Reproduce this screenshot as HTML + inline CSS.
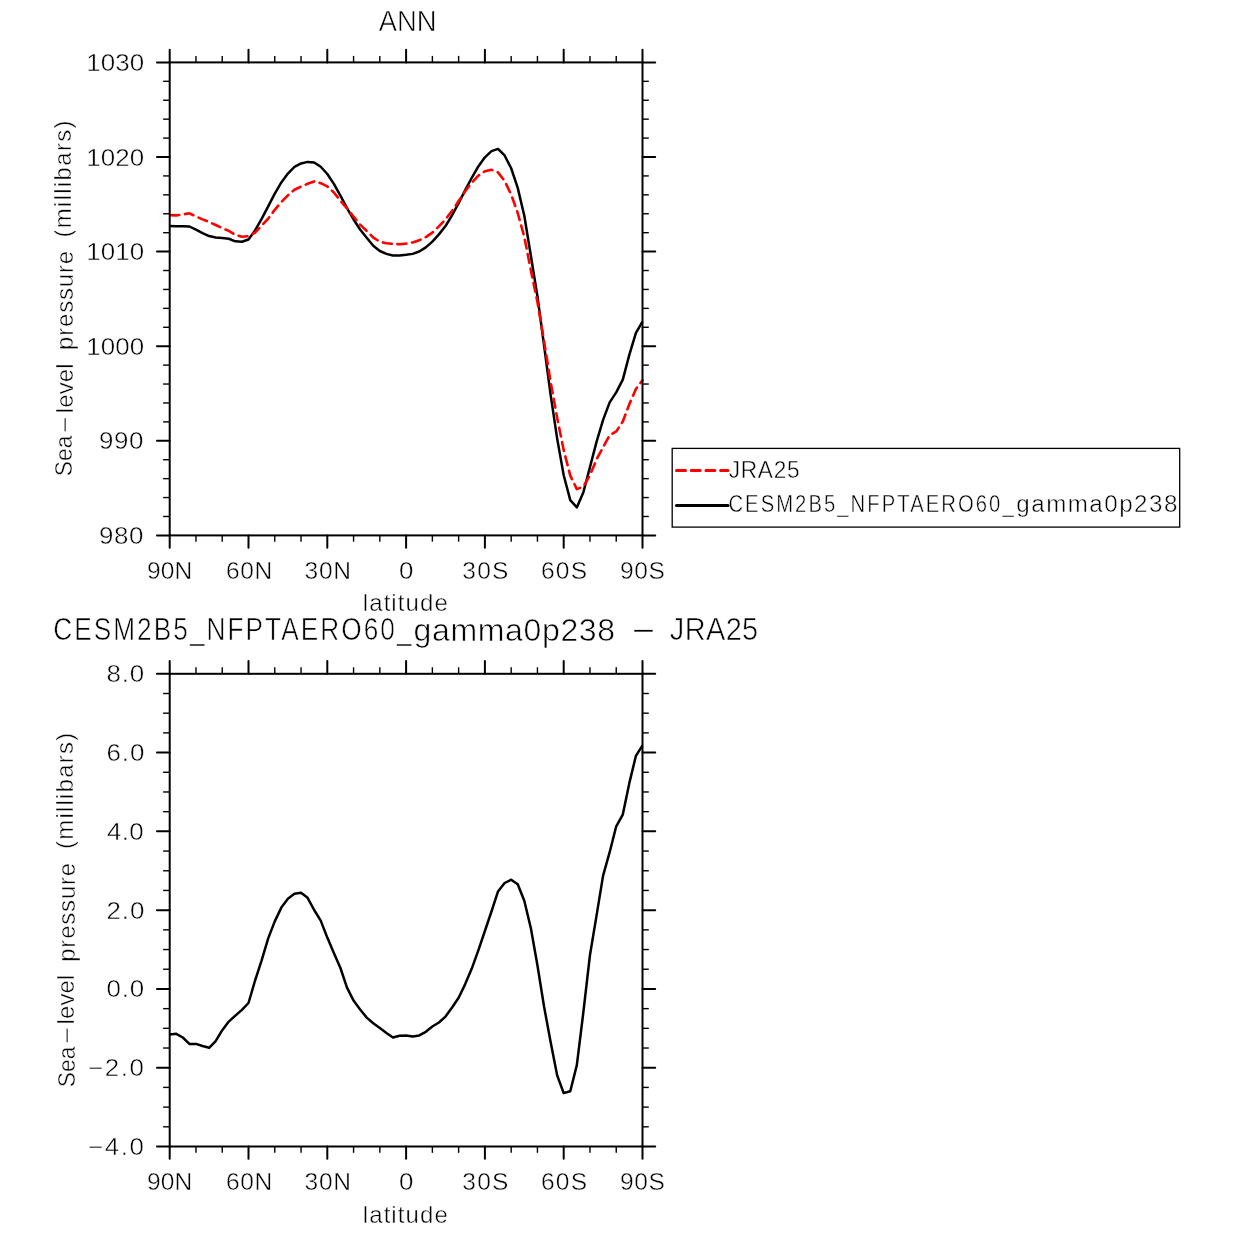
<!DOCTYPE html>
<html><head><meta charset="utf-8"><style>
html,body{margin:0;padding:0;background:#fff;width:1233px;height:1233px;overflow:hidden}
svg{display:block}
text{font-family:"Liberation Sans", sans-serif;fill:#000;stroke:#fff;stroke-width:0.45px}
svg{will-change:transform}
</style></head><body>
<svg width="1233" height="1233" viewBox="0 0 1233 1233">
<path d="M169.70,226.03 L176.27,226.18 L182.83,226.18 L189.40,226.50 L195.97,229.70 L202.53,233.05 L209.10,236.07 L215.67,237.56 L222.23,238.00 L228.80,238.77 L235.37,241.35 L241.93,241.71 L248.50,239.49 L255.07,230.48 L261.63,218.91 L268.20,206.38 L274.77,193.59 L281.33,182.43 L287.90,173.61 L294.47,166.92 L301.03,163.45 L307.60,161.90 L314.17,162.47 L320.73,166.74 L327.30,174.03 L333.87,183.83 L340.43,195.63 L347.00,208.04 L353.57,219.50 L360.13,229.52 L366.70,237.79 L373.27,245.77 L379.83,251.00 L386.40,253.89 L392.97,255.58 L399.53,255.42 L406.10,254.78 L412.67,253.87 L419.23,251.48 L425.80,247.39 L432.37,241.66 L438.93,234.38 L445.50,226.07 L452.07,215.23 L458.63,203.21 L465.20,190.12 L471.77,177.76 L478.33,166.42 L484.90,157.34 L491.47,151.15 L498.03,148.93 L504.60,155.48 L511.17,168.23 L517.73,187.88 L524.30,215.71 L530.87,255.70 L537.43,296.20 L544.00,344.98 L550.57,394.38 L557.13,438.37 L563.70,475.21 L570.27,500.13 L576.83,507.39 L583.40,492.15 L589.97,467.07 L596.53,441.84 L603.10,419.89 L609.67,402.33 L616.23,392.42 L622.80,379.61 L629.37,354.66 L635.93,332.95 L642.50,321.74" fill="none" stroke="#000" stroke-width="2.5" stroke-linejoin="round"/>
<path d="M169.70,215.07 L176.27,215.42 L182.83,214.52 L189.40,213.30 L195.97,216.50 L202.53,219.35 L209.10,221.93 L215.67,225.04 L222.23,228.10 L228.80,230.93 L235.37,234.95 L241.93,236.69 L248.50,236.11 L255.07,232.52 L261.63,225.79 L268.20,218.52 L274.77,209.81 L281.33,201.97 L287.90,195.29 L294.47,189.78 L301.03,186.55 L307.60,183.80 L314.17,181.43 L320.73,183.16 L327.30,186.37 L333.87,192.47 L340.43,200.67 L347.00,208.36 L353.57,216.70 L360.13,224.58 L366.70,230.91 L373.27,237.53 L379.83,241.60 L386.40,243.31 L392.97,243.92 L399.53,244.18 L406.10,243.62 L412.67,242.43 L419.23,240.32 L425.80,237.11 L432.37,232.64 L438.93,226.32 L445.50,219.43 L452.07,210.77 L458.63,201.09 L465.20,191.28 L471.77,182.64 L478.33,175.68 L484.90,171.26 L491.47,169.75 L498.03,172.37 L504.60,180.92 L511.17,194.47 L517.73,213.02 L524.30,236.89 L530.87,270.30 L537.43,301.90 L544.00,340.82 L550.57,381.72 L557.13,417.63 L563.70,450.19 L570.27,475.57 L576.83,489.11 L583.40,486.65 L589.97,475.23 L596.53,459.46 L603.10,447.11 L609.67,435.17 L616.23,431.48 L622.80,421.49 L629.37,404.14 L635.93,388.95 L642.50,380.26" fill="none" stroke="#f00" stroke-width="2.6" stroke-dasharray="9 5.7" stroke-dashoffset="-0.6" stroke-linecap="round" stroke-linejoin="round"/>
<path d="M169.70,1034.60 L176.27,1033.80 L182.83,1037.50 L189.40,1043.90 L195.97,1043.90 L202.53,1046.00 L209.10,1047.80 L215.67,1041.10 L222.23,1030.20 L228.80,1021.60 L235.37,1015.60 L241.93,1009.90 L248.50,1003.00 L255.07,980.50 L261.63,960.30 L268.20,938.40 L274.77,921.40 L281.33,907.60 L287.90,898.70 L294.47,893.80 L301.03,892.80 L307.60,897.80 L314.17,910.00 L320.73,920.60 L327.30,937.60 L333.87,953.00 L340.43,968.00 L347.00,987.60 L353.57,1000.60 L360.13,1009.50 L366.70,1017.60 L373.27,1023.30 L379.83,1028.10 L386.40,1033.00 L392.97,1037.50 L399.53,1035.80 L406.10,1035.40 L412.67,1036.60 L419.23,1035.40 L425.80,1031.80 L432.37,1026.50 L438.93,1022.50 L445.50,1016.60 L452.07,1007.50 L458.63,997.80 L465.20,984.10 L471.77,968.60 L478.33,950.40 L484.90,931.00 L491.47,911.50 L498.03,891.40 L504.60,883.00 L511.17,879.70 L517.73,884.30 L524.30,900.80 L530.87,928.20 L537.43,965.20 L544.00,1006.30 L550.57,1041.70 L557.13,1075.30 L563.70,1093.10 L570.27,1091.20 L576.83,1065.10 L583.40,1011.90 L589.97,955.00 L596.53,915.60 L603.10,875.60 L609.67,852.20 L616.23,826.30 L622.80,814.60 L629.37,782.90 L635.93,755.80 L642.50,745.30" fill="none" stroke="#000" stroke-width="2.5" stroke-linejoin="round"/>
<rect x="169.7" y="62.4" width="472.8" height="473.0" fill="none" stroke="#000" stroke-width="2"/>
<line x1="169.70" y1="49.70" x2="169.70" y2="62.40" stroke="#000" stroke-width="2" stroke-linecap="round"/>
<line x1="169.70" y1="535.40" x2="169.70" y2="547.70" stroke="#000" stroke-width="2" stroke-linecap="round"/>
<line x1="195.97" y1="55.90" x2="195.97" y2="62.40" stroke="#000" stroke-width="1.4"/>
<line x1="195.97" y1="535.40" x2="195.97" y2="541.70" stroke="#000" stroke-width="1.4"/>
<line x1="222.23" y1="55.90" x2="222.23" y2="62.40" stroke="#000" stroke-width="1.4"/>
<line x1="222.23" y1="535.40" x2="222.23" y2="541.70" stroke="#000" stroke-width="1.4"/>
<line x1="248.50" y1="49.70" x2="248.50" y2="62.40" stroke="#000" stroke-width="2" stroke-linecap="round"/>
<line x1="248.50" y1="535.40" x2="248.50" y2="547.70" stroke="#000" stroke-width="2" stroke-linecap="round"/>
<line x1="274.77" y1="55.90" x2="274.77" y2="62.40" stroke="#000" stroke-width="1.4"/>
<line x1="274.77" y1="535.40" x2="274.77" y2="541.70" stroke="#000" stroke-width="1.4"/>
<line x1="301.03" y1="55.90" x2="301.03" y2="62.40" stroke="#000" stroke-width="1.4"/>
<line x1="301.03" y1="535.40" x2="301.03" y2="541.70" stroke="#000" stroke-width="1.4"/>
<line x1="327.30" y1="49.70" x2="327.30" y2="62.40" stroke="#000" stroke-width="2" stroke-linecap="round"/>
<line x1="327.30" y1="535.40" x2="327.30" y2="547.70" stroke="#000" stroke-width="2" stroke-linecap="round"/>
<line x1="353.57" y1="55.90" x2="353.57" y2="62.40" stroke="#000" stroke-width="1.4"/>
<line x1="353.57" y1="535.40" x2="353.57" y2="541.70" stroke="#000" stroke-width="1.4"/>
<line x1="379.83" y1="55.90" x2="379.83" y2="62.40" stroke="#000" stroke-width="1.4"/>
<line x1="379.83" y1="535.40" x2="379.83" y2="541.70" stroke="#000" stroke-width="1.4"/>
<line x1="406.10" y1="49.70" x2="406.10" y2="62.40" stroke="#000" stroke-width="2" stroke-linecap="round"/>
<line x1="406.10" y1="535.40" x2="406.10" y2="547.70" stroke="#000" stroke-width="2" stroke-linecap="round"/>
<line x1="432.37" y1="55.90" x2="432.37" y2="62.40" stroke="#000" stroke-width="1.4"/>
<line x1="432.37" y1="535.40" x2="432.37" y2="541.70" stroke="#000" stroke-width="1.4"/>
<line x1="458.63" y1="55.90" x2="458.63" y2="62.40" stroke="#000" stroke-width="1.4"/>
<line x1="458.63" y1="535.40" x2="458.63" y2="541.70" stroke="#000" stroke-width="1.4"/>
<line x1="484.90" y1="49.70" x2="484.90" y2="62.40" stroke="#000" stroke-width="2" stroke-linecap="round"/>
<line x1="484.90" y1="535.40" x2="484.90" y2="547.70" stroke="#000" stroke-width="2" stroke-linecap="round"/>
<line x1="511.17" y1="55.90" x2="511.17" y2="62.40" stroke="#000" stroke-width="1.4"/>
<line x1="511.17" y1="535.40" x2="511.17" y2="541.70" stroke="#000" stroke-width="1.4"/>
<line x1="537.43" y1="55.90" x2="537.43" y2="62.40" stroke="#000" stroke-width="1.4"/>
<line x1="537.43" y1="535.40" x2="537.43" y2="541.70" stroke="#000" stroke-width="1.4"/>
<line x1="563.70" y1="49.70" x2="563.70" y2="62.40" stroke="#000" stroke-width="2" stroke-linecap="round"/>
<line x1="563.70" y1="535.40" x2="563.70" y2="547.70" stroke="#000" stroke-width="2" stroke-linecap="round"/>
<line x1="589.97" y1="55.90" x2="589.97" y2="62.40" stroke="#000" stroke-width="1.4"/>
<line x1="589.97" y1="535.40" x2="589.97" y2="541.70" stroke="#000" stroke-width="1.4"/>
<line x1="616.23" y1="55.90" x2="616.23" y2="62.40" stroke="#000" stroke-width="1.4"/>
<line x1="616.23" y1="535.40" x2="616.23" y2="541.70" stroke="#000" stroke-width="1.4"/>
<line x1="642.50" y1="49.70" x2="642.50" y2="62.40" stroke="#000" stroke-width="2" stroke-linecap="round"/>
<line x1="642.50" y1="535.40" x2="642.50" y2="547.70" stroke="#000" stroke-width="2" stroke-linecap="round"/>
<line x1="157.00" y1="62.40" x2="169.70" y2="62.40" stroke="#000" stroke-width="2" stroke-linecap="round"/>
<line x1="642.50" y1="62.40" x2="655.20" y2="62.40" stroke="#000" stroke-width="2" stroke-linecap="round"/>
<line x1="163.10" y1="81.32" x2="169.70" y2="81.32" stroke="#000" stroke-width="1.4"/>
<line x1="642.50" y1="81.32" x2="648.80" y2="81.32" stroke="#000" stroke-width="1.4"/>
<line x1="163.10" y1="100.24" x2="169.70" y2="100.24" stroke="#000" stroke-width="1.4"/>
<line x1="642.50" y1="100.24" x2="648.80" y2="100.24" stroke="#000" stroke-width="1.4"/>
<line x1="163.10" y1="119.16" x2="169.70" y2="119.16" stroke="#000" stroke-width="1.4"/>
<line x1="642.50" y1="119.16" x2="648.80" y2="119.16" stroke="#000" stroke-width="1.4"/>
<line x1="163.10" y1="138.08" x2="169.70" y2="138.08" stroke="#000" stroke-width="1.4"/>
<line x1="642.50" y1="138.08" x2="648.80" y2="138.08" stroke="#000" stroke-width="1.4"/>
<line x1="157.00" y1="157.00" x2="169.70" y2="157.00" stroke="#000" stroke-width="2" stroke-linecap="round"/>
<line x1="642.50" y1="157.00" x2="655.20" y2="157.00" stroke="#000" stroke-width="2" stroke-linecap="round"/>
<line x1="163.10" y1="175.92" x2="169.70" y2="175.92" stroke="#000" stroke-width="1.4"/>
<line x1="642.50" y1="175.92" x2="648.80" y2="175.92" stroke="#000" stroke-width="1.4"/>
<line x1="163.10" y1="194.84" x2="169.70" y2="194.84" stroke="#000" stroke-width="1.4"/>
<line x1="642.50" y1="194.84" x2="648.80" y2="194.84" stroke="#000" stroke-width="1.4"/>
<line x1="163.10" y1="213.76" x2="169.70" y2="213.76" stroke="#000" stroke-width="1.4"/>
<line x1="642.50" y1="213.76" x2="648.80" y2="213.76" stroke="#000" stroke-width="1.4"/>
<line x1="163.10" y1="232.68" x2="169.70" y2="232.68" stroke="#000" stroke-width="1.4"/>
<line x1="642.50" y1="232.68" x2="648.80" y2="232.68" stroke="#000" stroke-width="1.4"/>
<line x1="157.00" y1="251.60" x2="169.70" y2="251.60" stroke="#000" stroke-width="2" stroke-linecap="round"/>
<line x1="642.50" y1="251.60" x2="655.20" y2="251.60" stroke="#000" stroke-width="2" stroke-linecap="round"/>
<line x1="163.10" y1="270.52" x2="169.70" y2="270.52" stroke="#000" stroke-width="1.4"/>
<line x1="642.50" y1="270.52" x2="648.80" y2="270.52" stroke="#000" stroke-width="1.4"/>
<line x1="163.10" y1="289.44" x2="169.70" y2="289.44" stroke="#000" stroke-width="1.4"/>
<line x1="642.50" y1="289.44" x2="648.80" y2="289.44" stroke="#000" stroke-width="1.4"/>
<line x1="163.10" y1="308.36" x2="169.70" y2="308.36" stroke="#000" stroke-width="1.4"/>
<line x1="642.50" y1="308.36" x2="648.80" y2="308.36" stroke="#000" stroke-width="1.4"/>
<line x1="163.10" y1="327.28" x2="169.70" y2="327.28" stroke="#000" stroke-width="1.4"/>
<line x1="642.50" y1="327.28" x2="648.80" y2="327.28" stroke="#000" stroke-width="1.4"/>
<line x1="157.00" y1="346.20" x2="169.70" y2="346.20" stroke="#000" stroke-width="2" stroke-linecap="round"/>
<line x1="642.50" y1="346.20" x2="655.20" y2="346.20" stroke="#000" stroke-width="2" stroke-linecap="round"/>
<line x1="163.10" y1="365.12" x2="169.70" y2="365.12" stroke="#000" stroke-width="1.4"/>
<line x1="642.50" y1="365.12" x2="648.80" y2="365.12" stroke="#000" stroke-width="1.4"/>
<line x1="163.10" y1="384.04" x2="169.70" y2="384.04" stroke="#000" stroke-width="1.4"/>
<line x1="642.50" y1="384.04" x2="648.80" y2="384.04" stroke="#000" stroke-width="1.4"/>
<line x1="163.10" y1="402.96" x2="169.70" y2="402.96" stroke="#000" stroke-width="1.4"/>
<line x1="642.50" y1="402.96" x2="648.80" y2="402.96" stroke="#000" stroke-width="1.4"/>
<line x1="163.10" y1="421.88" x2="169.70" y2="421.88" stroke="#000" stroke-width="1.4"/>
<line x1="642.50" y1="421.88" x2="648.80" y2="421.88" stroke="#000" stroke-width="1.4"/>
<line x1="157.00" y1="440.80" x2="169.70" y2="440.80" stroke="#000" stroke-width="2" stroke-linecap="round"/>
<line x1="642.50" y1="440.80" x2="655.20" y2="440.80" stroke="#000" stroke-width="2" stroke-linecap="round"/>
<line x1="163.10" y1="459.72" x2="169.70" y2="459.72" stroke="#000" stroke-width="1.4"/>
<line x1="642.50" y1="459.72" x2="648.80" y2="459.72" stroke="#000" stroke-width="1.4"/>
<line x1="163.10" y1="478.64" x2="169.70" y2="478.64" stroke="#000" stroke-width="1.4"/>
<line x1="642.50" y1="478.64" x2="648.80" y2="478.64" stroke="#000" stroke-width="1.4"/>
<line x1="163.10" y1="497.56" x2="169.70" y2="497.56" stroke="#000" stroke-width="1.4"/>
<line x1="642.50" y1="497.56" x2="648.80" y2="497.56" stroke="#000" stroke-width="1.4"/>
<line x1="163.10" y1="516.48" x2="169.70" y2="516.48" stroke="#000" stroke-width="1.4"/>
<line x1="642.50" y1="516.48" x2="648.80" y2="516.48" stroke="#000" stroke-width="1.4"/>
<line x1="157.00" y1="535.40" x2="169.70" y2="535.40" stroke="#000" stroke-width="2" stroke-linecap="round"/>
<line x1="642.50" y1="535.40" x2="655.20" y2="535.40" stroke="#000" stroke-width="2" stroke-linecap="round"/>
<rect x="169.7" y="673.8" width="472.8" height="472.70000000000005" fill="none" stroke="#000" stroke-width="2"/>
<line x1="169.70" y1="661.10" x2="169.70" y2="673.80" stroke="#000" stroke-width="2" stroke-linecap="round"/>
<line x1="169.70" y1="1146.50" x2="169.70" y2="1158.80" stroke="#000" stroke-width="2" stroke-linecap="round"/>
<line x1="195.97" y1="667.30" x2="195.97" y2="673.80" stroke="#000" stroke-width="1.4"/>
<line x1="195.97" y1="1146.50" x2="195.97" y2="1152.80" stroke="#000" stroke-width="1.4"/>
<line x1="222.23" y1="667.30" x2="222.23" y2="673.80" stroke="#000" stroke-width="1.4"/>
<line x1="222.23" y1="1146.50" x2="222.23" y2="1152.80" stroke="#000" stroke-width="1.4"/>
<line x1="248.50" y1="661.10" x2="248.50" y2="673.80" stroke="#000" stroke-width="2" stroke-linecap="round"/>
<line x1="248.50" y1="1146.50" x2="248.50" y2="1158.80" stroke="#000" stroke-width="2" stroke-linecap="round"/>
<line x1="274.77" y1="667.30" x2="274.77" y2="673.80" stroke="#000" stroke-width="1.4"/>
<line x1="274.77" y1="1146.50" x2="274.77" y2="1152.80" stroke="#000" stroke-width="1.4"/>
<line x1="301.03" y1="667.30" x2="301.03" y2="673.80" stroke="#000" stroke-width="1.4"/>
<line x1="301.03" y1="1146.50" x2="301.03" y2="1152.80" stroke="#000" stroke-width="1.4"/>
<line x1="327.30" y1="661.10" x2="327.30" y2="673.80" stroke="#000" stroke-width="2" stroke-linecap="round"/>
<line x1="327.30" y1="1146.50" x2="327.30" y2="1158.80" stroke="#000" stroke-width="2" stroke-linecap="round"/>
<line x1="353.57" y1="667.30" x2="353.57" y2="673.80" stroke="#000" stroke-width="1.4"/>
<line x1="353.57" y1="1146.50" x2="353.57" y2="1152.80" stroke="#000" stroke-width="1.4"/>
<line x1="379.83" y1="667.30" x2="379.83" y2="673.80" stroke="#000" stroke-width="1.4"/>
<line x1="379.83" y1="1146.50" x2="379.83" y2="1152.80" stroke="#000" stroke-width="1.4"/>
<line x1="406.10" y1="661.10" x2="406.10" y2="673.80" stroke="#000" stroke-width="2" stroke-linecap="round"/>
<line x1="406.10" y1="1146.50" x2="406.10" y2="1158.80" stroke="#000" stroke-width="2" stroke-linecap="round"/>
<line x1="432.37" y1="667.30" x2="432.37" y2="673.80" stroke="#000" stroke-width="1.4"/>
<line x1="432.37" y1="1146.50" x2="432.37" y2="1152.80" stroke="#000" stroke-width="1.4"/>
<line x1="458.63" y1="667.30" x2="458.63" y2="673.80" stroke="#000" stroke-width="1.4"/>
<line x1="458.63" y1="1146.50" x2="458.63" y2="1152.80" stroke="#000" stroke-width="1.4"/>
<line x1="484.90" y1="661.10" x2="484.90" y2="673.80" stroke="#000" stroke-width="2" stroke-linecap="round"/>
<line x1="484.90" y1="1146.50" x2="484.90" y2="1158.80" stroke="#000" stroke-width="2" stroke-linecap="round"/>
<line x1="511.17" y1="667.30" x2="511.17" y2="673.80" stroke="#000" stroke-width="1.4"/>
<line x1="511.17" y1="1146.50" x2="511.17" y2="1152.80" stroke="#000" stroke-width="1.4"/>
<line x1="537.43" y1="667.30" x2="537.43" y2="673.80" stroke="#000" stroke-width="1.4"/>
<line x1="537.43" y1="1146.50" x2="537.43" y2="1152.80" stroke="#000" stroke-width="1.4"/>
<line x1="563.70" y1="661.10" x2="563.70" y2="673.80" stroke="#000" stroke-width="2" stroke-linecap="round"/>
<line x1="563.70" y1="1146.50" x2="563.70" y2="1158.80" stroke="#000" stroke-width="2" stroke-linecap="round"/>
<line x1="589.97" y1="667.30" x2="589.97" y2="673.80" stroke="#000" stroke-width="1.4"/>
<line x1="589.97" y1="1146.50" x2="589.97" y2="1152.80" stroke="#000" stroke-width="1.4"/>
<line x1="616.23" y1="667.30" x2="616.23" y2="673.80" stroke="#000" stroke-width="1.4"/>
<line x1="616.23" y1="1146.50" x2="616.23" y2="1152.80" stroke="#000" stroke-width="1.4"/>
<line x1="642.50" y1="661.10" x2="642.50" y2="673.80" stroke="#000" stroke-width="2" stroke-linecap="round"/>
<line x1="642.50" y1="1146.50" x2="642.50" y2="1158.80" stroke="#000" stroke-width="2" stroke-linecap="round"/>
<line x1="157.00" y1="673.80" x2="169.70" y2="673.80" stroke="#000" stroke-width="2" stroke-linecap="round"/>
<line x1="642.50" y1="673.80" x2="655.20" y2="673.80" stroke="#000" stroke-width="2" stroke-linecap="round"/>
<line x1="163.10" y1="693.50" x2="169.70" y2="693.50" stroke="#000" stroke-width="1.4"/>
<line x1="642.50" y1="693.50" x2="648.80" y2="693.50" stroke="#000" stroke-width="1.4"/>
<line x1="163.10" y1="713.19" x2="169.70" y2="713.19" stroke="#000" stroke-width="1.4"/>
<line x1="642.50" y1="713.19" x2="648.80" y2="713.19" stroke="#000" stroke-width="1.4"/>
<line x1="163.10" y1="732.89" x2="169.70" y2="732.89" stroke="#000" stroke-width="1.4"/>
<line x1="642.50" y1="732.89" x2="648.80" y2="732.89" stroke="#000" stroke-width="1.4"/>
<line x1="157.00" y1="752.58" x2="169.70" y2="752.58" stroke="#000" stroke-width="2" stroke-linecap="round"/>
<line x1="642.50" y1="752.58" x2="655.20" y2="752.58" stroke="#000" stroke-width="2" stroke-linecap="round"/>
<line x1="163.10" y1="772.28" x2="169.70" y2="772.28" stroke="#000" stroke-width="1.4"/>
<line x1="642.50" y1="772.28" x2="648.80" y2="772.28" stroke="#000" stroke-width="1.4"/>
<line x1="163.10" y1="791.97" x2="169.70" y2="791.97" stroke="#000" stroke-width="1.4"/>
<line x1="642.50" y1="791.97" x2="648.80" y2="791.97" stroke="#000" stroke-width="1.4"/>
<line x1="163.10" y1="811.67" x2="169.70" y2="811.67" stroke="#000" stroke-width="1.4"/>
<line x1="642.50" y1="811.67" x2="648.80" y2="811.67" stroke="#000" stroke-width="1.4"/>
<line x1="157.00" y1="831.37" x2="169.70" y2="831.37" stroke="#000" stroke-width="2" stroke-linecap="round"/>
<line x1="642.50" y1="831.37" x2="655.20" y2="831.37" stroke="#000" stroke-width="2" stroke-linecap="round"/>
<line x1="163.10" y1="851.06" x2="169.70" y2="851.06" stroke="#000" stroke-width="1.4"/>
<line x1="642.50" y1="851.06" x2="648.80" y2="851.06" stroke="#000" stroke-width="1.4"/>
<line x1="163.10" y1="870.76" x2="169.70" y2="870.76" stroke="#000" stroke-width="1.4"/>
<line x1="642.50" y1="870.76" x2="648.80" y2="870.76" stroke="#000" stroke-width="1.4"/>
<line x1="163.10" y1="890.45" x2="169.70" y2="890.45" stroke="#000" stroke-width="1.4"/>
<line x1="642.50" y1="890.45" x2="648.80" y2="890.45" stroke="#000" stroke-width="1.4"/>
<line x1="157.00" y1="910.15" x2="169.70" y2="910.15" stroke="#000" stroke-width="2" stroke-linecap="round"/>
<line x1="642.50" y1="910.15" x2="655.20" y2="910.15" stroke="#000" stroke-width="2" stroke-linecap="round"/>
<line x1="163.10" y1="929.85" x2="169.70" y2="929.85" stroke="#000" stroke-width="1.4"/>
<line x1="642.50" y1="929.85" x2="648.80" y2="929.85" stroke="#000" stroke-width="1.4"/>
<line x1="163.10" y1="949.54" x2="169.70" y2="949.54" stroke="#000" stroke-width="1.4"/>
<line x1="642.50" y1="949.54" x2="648.80" y2="949.54" stroke="#000" stroke-width="1.4"/>
<line x1="163.10" y1="969.24" x2="169.70" y2="969.24" stroke="#000" stroke-width="1.4"/>
<line x1="642.50" y1="969.24" x2="648.80" y2="969.24" stroke="#000" stroke-width="1.4"/>
<line x1="157.00" y1="988.93" x2="169.70" y2="988.93" stroke="#000" stroke-width="2" stroke-linecap="round"/>
<line x1="642.50" y1="988.93" x2="655.20" y2="988.93" stroke="#000" stroke-width="2" stroke-linecap="round"/>
<line x1="163.10" y1="1008.63" x2="169.70" y2="1008.63" stroke="#000" stroke-width="1.4"/>
<line x1="642.50" y1="1008.63" x2="648.80" y2="1008.63" stroke="#000" stroke-width="1.4"/>
<line x1="163.10" y1="1028.33" x2="169.70" y2="1028.33" stroke="#000" stroke-width="1.4"/>
<line x1="642.50" y1="1028.33" x2="648.80" y2="1028.33" stroke="#000" stroke-width="1.4"/>
<line x1="163.10" y1="1048.02" x2="169.70" y2="1048.02" stroke="#000" stroke-width="1.4"/>
<line x1="642.50" y1="1048.02" x2="648.80" y2="1048.02" stroke="#000" stroke-width="1.4"/>
<line x1="157.00" y1="1067.72" x2="169.70" y2="1067.72" stroke="#000" stroke-width="2" stroke-linecap="round"/>
<line x1="642.50" y1="1067.72" x2="655.20" y2="1067.72" stroke="#000" stroke-width="2" stroke-linecap="round"/>
<line x1="163.10" y1="1087.41" x2="169.70" y2="1087.41" stroke="#000" stroke-width="1.4"/>
<line x1="642.50" y1="1087.41" x2="648.80" y2="1087.41" stroke="#000" stroke-width="1.4"/>
<line x1="163.10" y1="1107.11" x2="169.70" y2="1107.11" stroke="#000" stroke-width="1.4"/>
<line x1="642.50" y1="1107.11" x2="648.80" y2="1107.11" stroke="#000" stroke-width="1.4"/>
<line x1="163.10" y1="1126.80" x2="169.70" y2="1126.80" stroke="#000" stroke-width="1.4"/>
<line x1="642.50" y1="1126.80" x2="648.80" y2="1126.80" stroke="#000" stroke-width="1.4"/>
<line x1="157.00" y1="1146.50" x2="169.70" y2="1146.50" stroke="#000" stroke-width="2" stroke-linecap="round"/>
<line x1="642.50" y1="1146.50" x2="655.20" y2="1146.50" stroke="#000" stroke-width="2" stroke-linecap="round"/>
<text id="ANN" x="0" y="0" font-size="29.75" textLength="62.74" lengthAdjust="spacingAndGlyphs" style="stroke-width:0.6px" transform="translate(378.70,30.60) scale(0.92,1)">ANN</text>
<text id="yt1030" x="0" y="0" font-size="24.00" textLength="53.50" lengthAdjust="spacing" transform="translate(86.30,71.30) scale(1.08,1)">1030</text>
<text id="yt1020" x="0" y="0" font-size="24.00" textLength="53.50" lengthAdjust="spacing" transform="translate(86.30,165.50) scale(1.08,1)">1020</text>
<text id="yt1010" x="0" y="0" font-size="24.00" textLength="53.50" lengthAdjust="spacing" transform="translate(86.30,259.70) scale(1.08,1)">1010</text>
<text id="yt1000" x="0" y="0" font-size="24.00" textLength="53.50" lengthAdjust="spacing" transform="translate(86.30,354.90) scale(1.08,1)">1000</text>
<text id="yt990" x="0" y="0" font-size="24.00" textLength="41.04" lengthAdjust="spacing" transform="translate(99.10,449.10) scale(1.08,1)">990</text>
<text id="yt980" x="0" y="0" font-size="24.00" textLength="41.04" lengthAdjust="spacing" transform="translate(99.10,544.30) scale(1.08,1)">980</text>
<text id="yb0" x="0" y="0" font-size="24.00" textLength="34.96" lengthAdjust="spacing" transform="translate(106.40,682.10) scale(1.08,1)">8.0</text>
<text id="yb1" x="0" y="0" font-size="24.00" textLength="35.11" lengthAdjust="spacing" transform="translate(106.40,760.92) scale(1.08,1)">6.0</text>
<text id="yb2" x="0" y="0" font-size="24.00" textLength="34.07" lengthAdjust="spacing" transform="translate(106.90,839.73) scale(1.08,1)">4.0</text>
<text id="yb3" x="0" y="0" font-size="24.00" textLength="35.11" lengthAdjust="spacing" transform="translate(106.40,918.55) scale(1.08,1)">2.0</text>
<text id="yb4" x="0" y="0" font-size="24.00" textLength="35.03" lengthAdjust="spacing" transform="translate(106.40,997.37) scale(1.08,1)">0.0</text>
<text id="yb5" x="0" y="0" font-size="24.00" textLength="51.76" lengthAdjust="spacing" transform="translate(88.10,1076.18) scale(1.08,1)">−2.0</text>
<text id="yb6" x="0" y="0" font-size="24.00" textLength="51.76" lengthAdjust="spacing" transform="translate(88.10,1155.00) scale(1.08,1)">−4.0</text>
<text id="x00" x="0" y="0" font-size="24.54" textLength="45.25" lengthAdjust="spacing" transform="translate(146.90,579.40)">90N</text>
<text id="x01" x="0" y="0" font-size="24.54" textLength="46.15" lengthAdjust="spacing" transform="translate(226.00,579.40)">60N</text>
<text id="x02" x="0" y="0" font-size="24.54" textLength="46.40" lengthAdjust="spacing" transform="translate(304.60,579.40)">30N</text>
<text id="x03" x="0" y="0" font-size="24.54" textLength="14.42" lengthAdjust="spacingAndGlyphs" transform="translate(398.95,579.40)">0</text>
<text id="x04" x="0" y="0" font-size="24.54" textLength="46.13" lengthAdjust="spacing" transform="translate(462.30,579.40)">30S</text>
<text id="x05" x="0" y="0" font-size="24.54" textLength="46.13" lengthAdjust="spacing" transform="translate(540.90,579.40)">60S</text>
<text id="x06" x="0" y="0" font-size="24.54" textLength="44.79" lengthAdjust="spacing" transform="translate(620.00,579.40)">90S</text>
<text id="lat0" x="0" y="0" font-size="24.00" textLength="84.94" lengthAdjust="spacing" transform="translate(362.80,611.10)">latitude</text>
<text id="x10" x="0" y="0" font-size="24.54" textLength="45.25" lengthAdjust="spacing" transform="translate(146.90,1190.10)">90N</text>
<text id="x11" x="0" y="0" font-size="24.54" textLength="46.15" lengthAdjust="spacing" transform="translate(226.00,1190.10)">60N</text>
<text id="x12" x="0" y="0" font-size="24.54" textLength="46.40" lengthAdjust="spacing" transform="translate(304.60,1190.10)">30N</text>
<text id="x13" x="0" y="0" font-size="24.54" textLength="14.42" lengthAdjust="spacingAndGlyphs" transform="translate(398.95,1190.10)">0</text>
<text id="x14" x="0" y="0" font-size="24.54" textLength="46.13" lengthAdjust="spacing" transform="translate(462.30,1190.10)">30S</text>
<text id="x15" x="0" y="0" font-size="24.54" textLength="46.13" lengthAdjust="spacing" transform="translate(540.90,1190.10)">60S</text>
<text id="x16" x="0" y="0" font-size="24.54" textLength="44.79" lengthAdjust="spacing" transform="translate(620.00,1190.10)">90S</text>
<text id="lat1" x="0" y="0" font-size="24.00" textLength="84.94" lengthAdjust="spacing" transform="translate(362.80,1222.80)">latitude</text>
<text id="yl0a" x="0" y="0" font-size="24.00" textLength="40.66" lengthAdjust="spacingAndGlyphs" transform="translate(72.40,476.30) rotate(-90)">Sea</text>
<text id="yl0m" x="0" y="0" font-size="24.00" textLength="16.39" lengthAdjust="spacingAndGlyphs" transform="translate(72.90,433.00) rotate(-90)">−</text>
<text id="yl0l" x="0" y="0" font-size="24.00" textLength="49.86" lengthAdjust="spacing" transform="translate(72.70,413.20) rotate(-90)">level</text>
<text id="yl0b" x="0" y="0" font-size="24.00" textLength="98.93" lengthAdjust="spacing" transform="translate(72.50,349.90) rotate(-90)">pressure</text>
<text id="yl0c" x="0" y="0" font-size="24.00" textLength="117.10" lengthAdjust="spacing" transform="translate(71.40,237.60) rotate(-90)">(millibars)</text>
<text id="yl1a" x="0" y="0" font-size="24.00" textLength="40.70" lengthAdjust="spacingAndGlyphs" transform="translate(74.70,1087.20) rotate(-90)">Sea</text>
<text id="yl1m" x="0" y="0" font-size="24.00" textLength="16.63" lengthAdjust="spacingAndGlyphs" transform="translate(75.00,1043.80) rotate(-90)">−</text>
<text id="yl1l" x="0" y="0" font-size="24.00" textLength="49.86" lengthAdjust="spacing" transform="translate(73.80,1024.50) rotate(-90)">level</text>
<text id="yl1b" x="0" y="0" font-size="24.00" textLength="99.04" lengthAdjust="spacing" transform="translate(74.80,961.80) rotate(-90)">pressure</text>
<text id="yl1c" x="0" y="0" font-size="24.00" textLength="116.25" lengthAdjust="spacing" transform="translate(72.70,849.00) rotate(-90)">(millibars)</text>
<text id="t2a" x="0" y="0" font-size="30.50" textLength="416.66" lengthAdjust="spacing" style="stroke-width:0.6px" transform="translate(53.20,640.20) scale(0.86,1)">CESM2B5_NFPTAERO60_</text>
<text id="t2d" x="0" y="0" font-size="30.50" textLength="192.03" lengthAdjust="spacing" style="stroke-width:0.6px" transform="translate(413.50,640.60) scale(1.05,1)">gamma0p238</text>
<text id="t2b" x="0" y="0" font-size="30.50" textLength="23.01" lengthAdjust="spacingAndGlyphs" style="stroke-width:0.6px" transform="translate(632.20,640.70)">−</text>
<text id="t2c" x="0" y="0" font-size="30.50" textLength="93.11" lengthAdjust="spacing" style="stroke-width:0.6px" transform="translate(669.80,640.20) scale(0.95,1)">JRA25</text>
<text id="legJ" x="0" y="0" font-size="23.85" textLength="74.61" lengthAdjust="spacing" transform="translate(728.70,478.10) scale(0.95,1)">JRA25</text>
<text id="legC" x="0" y="0" font-size="23.00" textLength="324.19" lengthAdjust="spacing" transform="translate(728.40,511.60) scale(0.88,1)">CESM2B5_NFPTAERO60_</text>
<text id="legD" x="0" y="0" font-size="23.00" textLength="153.39" lengthAdjust="spacing" transform="translate(1016.30,512.40) scale(1.05,1)">gamma0p238</text>
<rect x="672.2" y="448.4" width="507.5" height="78.7" fill="none" stroke="#000" stroke-width="1.3"/>
<line x1="676.5" y1="470.4" x2="728" y2="470.4" stroke="#f00" stroke-width="3" stroke-dasharray="9 5.7" stroke-linecap="round"/>
<line x1="676.5" y1="505.5" x2="728" y2="505.5" stroke="#000" stroke-width="3" stroke-linecap="round"/>
</svg>
</body></html>
